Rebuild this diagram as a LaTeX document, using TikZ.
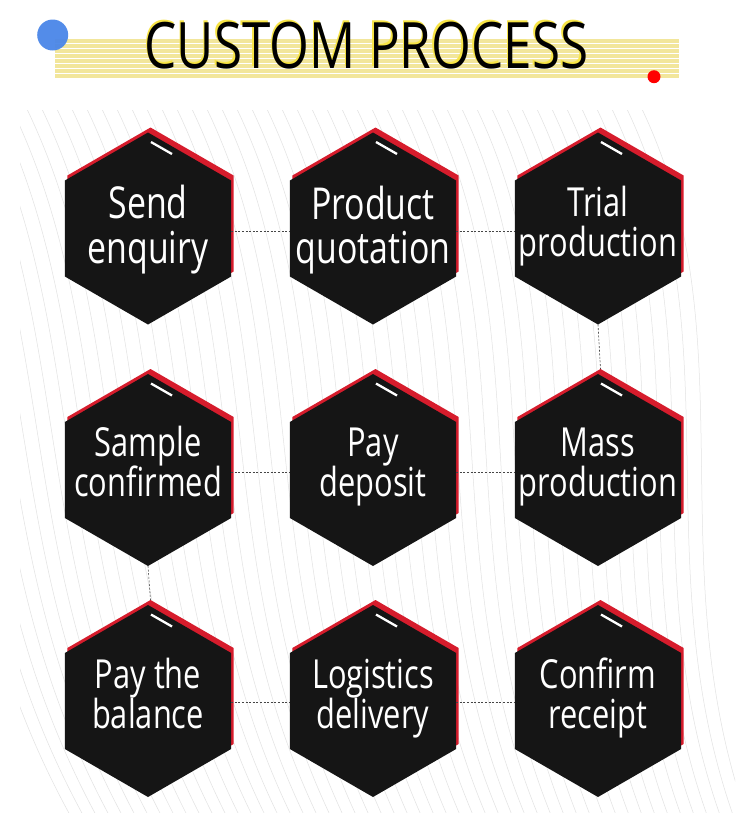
\documentclass[tikz,border=0pt]{standalone}
\usepackage{fontspec}
\setmainfont{Open Sans}
\newfontfamily\hexfont{Open Sans}[FakeStretch=0.77]
\newfontfamily\titlefont{Open Sans}[FakeStretch=0.80]
\usetikzlibrary{shapes.geometric}
\definecolor{hexblack}{RGB}{21,21,21}
\definecolor{hexred}{RGB}{214,28,44}
\definecolor{stripe}{RGB}{242,230,155}
\definecolor{dotblue}{RGB}{74,134,232}
\definecolor{titleyellow}{RGB}{247,228,70}
\definecolor{bgline}{RGB}{226,226,226}
\definecolor{connc}{RGB}{70,70,70}
\tikzset{
  hexbase/.style={regular polygon, regular polygon sides=6, shape border rotate=30,
    minimum size=192pt, inner sep=0pt, outer sep=0pt, draw=none},
  hexredshape/.style={hexbase, fill=hexred},
  hexblkshape/.style={hexbase, fill=hexblack},
  ticks/.style={white, line width=2.3pt},
  hextxt/.style={text=white, anchor=base, inner sep=0pt, outer sep=0pt},
  conn/.style={connc, line width=0.6pt, dash pattern=on 2pt off 1.6pt},
}
\newcommand{\hexstep}[8]{%
  \node[hexredshape] (#1r) at (#2+2.5,#3-5) {};
  \node[hexblkshape] (#1) at (#2,#3) {};
  \draw[ticks] ([shift={(3,-86.5)}]#1.center) -- ([shift={(24,-74.5)}]#1.center);
  \node[hextxt, font=\hexfont\fontsize{#4}{#4}\selectfont] (#1a) at (#2,#7) {#5};
  \node[hextxt, font=\hexfont\fontsize{#4}{#4}\selectfont] (#1b) at (#2,#8) {#6};
}
\begin{document}
\begin{tikzpicture}[x=1pt,y=-1pt]
\useasboundingbox (0,0) rectangle (750,828);
\fill[white] (0,0) rectangle (750,828);
% background texture
\begin{scope}
  \clip (20,110) rectangle (735,812);
  \foreach \i in {0,...,52} {
    \draw[bgline, line width=0.5pt] (-140+15*\i,105) .. controls (-30+15*\i,330) and (-70+14*\i,560) .. (70+13*\i,815);
  }
\end{scope}
% title stripes
\foreach \k in {0,...,7} {
  \fill[stripe] (55,39+5*\k) rectangle (679,42.7+5*\k);
}
\node[font=\titlefont\fontsize{64}{64}\selectfont, text=titleyellow, anchor=base, inner sep=0pt] (ttlshadow) at (365,66.5) {CUSTOM PROCESS};
\node[font=\titlefont\fontsize{64}{64}\selectfont, text=black, anchor=base, inner sep=0pt] (ttl) at (366.5,68) {CUSTOM PROCESS};
\fill[dotblue, opacity=0.95] (52.7,35) circle (15.5pt);
\fill[red] (654,76.7) circle (6.5pt);
% hexagons
\hexstep{h1}{148}{228.5}{44}{Send}{enquiry}{218}{263}
\hexstep{h2}{373}{228.5}{44}{Product}{quotation}{219}{263}
\hexstep{h3}{598}{228.5}{40}{Trial}{production}{216.5}{256.5}
\hexstep{h4}{148}{470}{40}{Sample}{confirmed}{456.7}{496.7}
\hexstep{h5}{373}{470}{40}{Pay}{deposit}{456.7}{496.7}
\hexstep{h6}{598}{470}{40}{Mass}{production}{456.7}{496.7}
\hexstep{h7}{148}{701}{40}{Pay the}{balance}{688}{728}
\hexstep{h8}{373}{701}{40}{Logistics}{delivery}{688}{728}
\hexstep{h9}{598}{701}{40}{Confirm}{receipt}{688}{728}
% connectors
\draw[conn] ([yshift=-3pt]h1.0) -- ([yshift=-3pt]h2.180);
\draw[conn] ([yshift=-3pt]h2.0) -- ([yshift=-3pt]h3.180);
\draw[conn] (h3.270) -- (h6r.90);
\draw[conn] ([yshift=-2pt]h4.0) -- ([yshift=-2pt]h5.180);
\draw[conn] ([yshift=-2pt]h5.0) -- ([yshift=-2pt]h6.180);
\draw[conn] (h4.270) -- (h7r.90);
\draw[conn] ([yshift=-1pt]h7.0) -- ([yshift=-1pt]h8.180);
\draw[conn] ([yshift=-1pt]h8.0) -- ([yshift=-1pt]h9.180);
\end{tikzpicture}
\end{document}
